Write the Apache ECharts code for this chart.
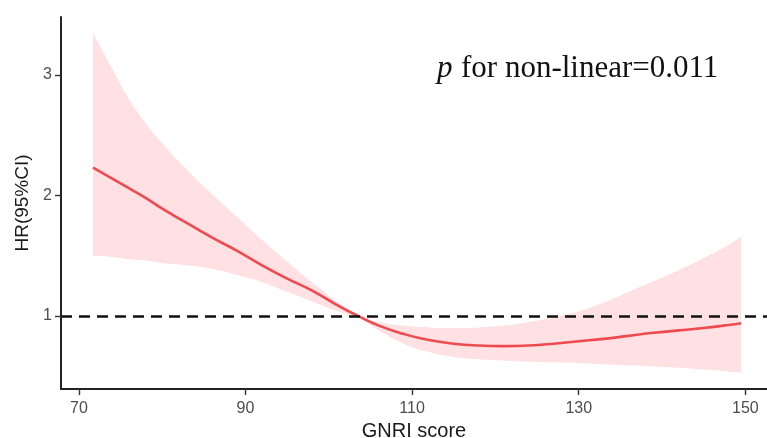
<!DOCTYPE html>
<html>
<head>
<meta charset="utf-8">
<script src="https://cdn.jsdelivr.net/npm/echarts@6/dist/echarts.min.js"></script>
<style>html,body{margin:0;padding:0;background:#fff}#c{width:767px;height:438px}</style>
</head>
<body>
<div id="c"></div>
<script>
var gnri  = [71.7, 74, 76, 78, 80, 83, 86, 89, 92, 95, 98, 101, 103.5, 106, 109, 112, 115, 118, 121, 124, 127, 130, 133, 136, 139, 142, 145, 148, 149.5];
var hr    = [2.23, 2.14, 2.06, 1.98, 1.89, 1.77, 1.65, 1.54, 1.42, 1.31, 1.21, 1.09, 1.0, 0.92, 0.85, 0.80, 0.77, 0.755, 0.75, 0.755, 0.77, 0.79, 0.81, 0.835, 0.86, 0.88, 0.90, 0.925, 0.94];
var upper = [3.35, 3.05, 2.80, 2.60, 2.43, 2.21, 2.01, 1.82, 1.63, 1.45, 1.28, 1.12, 1.01, 0.95, 0.92, 0.905, 0.90, 0.905, 0.92, 0.95, 0.99, 1.04, 1.11, 1.20, 1.29, 1.38, 1.48, 1.59, 1.66];
var lower = [1.50, 1.49, 1.47, 1.46, 1.44, 1.42, 1.39, 1.34, 1.28, 1.20, 1.12, 1.04, 0.99, 0.88, 0.77, 0.70, 0.66, 0.64, 0.63, 0.62, 0.615, 0.61, 0.60, 0.59, 0.58, 0.57, 0.555, 0.54, 0.53];
var xTicks = [70, 90, 110, 130, 150];
var yTicks = [1, 2, 3];
var refHR = 1;
var pLabel = 'p';
var annotation = 'for non-linear=0.011';

function pts(ys) { return gnri.map(function (x, i) { return [x, ys[i]]; }); }

var chart = echarts.init(document.getElementById('c'), null, {renderer: 'canvas'});
var axisTxt = {color: '#4d4d4d', fontSize: 16, fontFamily: 'Liberation Sans, Arial, sans-serif'};
chart.setOption({
  animation: false,
  backgroundColor: '#fff',
  grid: {left: 61, right: 0, top: 17, bottom: 49, containLabel: false, outerBoundsMode: 'none'},
  xAxis: {
    type: 'value', min: 67.85, max: 152.6,
    name: 'GNRI score', nameLocation: 'middle', nameGap: 30,
    nameTextStyle: {color: '#1a1a1a', fontSize: 20, fontFamily: 'Liberation Sans, Arial, sans-serif'},
    axisLine: {show: true, onZero: false, lineStyle: {color: '#222', width: 2}},
    axisTick: {show: true, length: 6, customValues: xTicks, lineStyle: {color: '#333', width: 1.4}},
    axisLabel: Object.assign({customValues: xTicks, margin: 12}, axisTxt),
    splitLine: {show: false},
    z: 10
  },
  yAxis: {
    type: 'value', min: 0.394, max: 3.48,
    name: 'HR(95%CI)', nameLocation: 'middle', nameGap: 23, nameRotate: 90,
    nameTextStyle: {color: '#1a1a1a', fontSize: 19, fontFamily: 'Liberation Sans, Arial, sans-serif'},
    axisLine: {show: true, onZero: false, lineStyle: {color: '#222', width: 2}},
    axisTick: {show: true, length: 6, customValues: yTicks, lineStyle: {color: '#333', width: 1.4}},
    axisLabel: Object.assign({customValues: yTicks, margin: 9}, axisTxt),
    splitLine: {show: false},
    z: 10
  },
  series: [
    {type: 'line', data: pts(upper), smooth: true, symbol: 'none',
     lineStyle: {width: 0, opacity: 0}, areaStyle: {color: '#ffe0e3', opacity: 1, origin: 'start'}, silent: true, z: 1},
    {type: 'line', data: pts(lower), smooth: true, symbol: 'none',
     lineStyle: {width: 0, opacity: 0}, areaStyle: {color: '#ffffff', opacity: 1, origin: 'start'}, silent: true, z: 2},
    {type: 'line', data: pts(hr), smooth: true, symbol: 'none',
     lineStyle: {color: '#ef4a50', width: 2.6}, z: 3,
     markLine: {silent: true, symbol: 'none', label: {show: false},
       lineStyle: {color: '#111', type: [11, 7], width: 2.6},
       data: [{yAxis: refHR}], z: 5}}
  ],
  graphic: [
    {type: 'text', left: 437, top: 53, z: 10,
     style: {text: pLabel, fontStyle: 'italic', fontFamily: 'Liberation Serif, serif', fontSize: 31, fill: '#111'}},
    {type: 'text', left: 461, top: 53, z: 10,
     style: {text: annotation, fontFamily: 'Liberation Serif, serif', fontSize: 31, fill: '#111'}}
  ]
});
</script>
</body>
</html>
